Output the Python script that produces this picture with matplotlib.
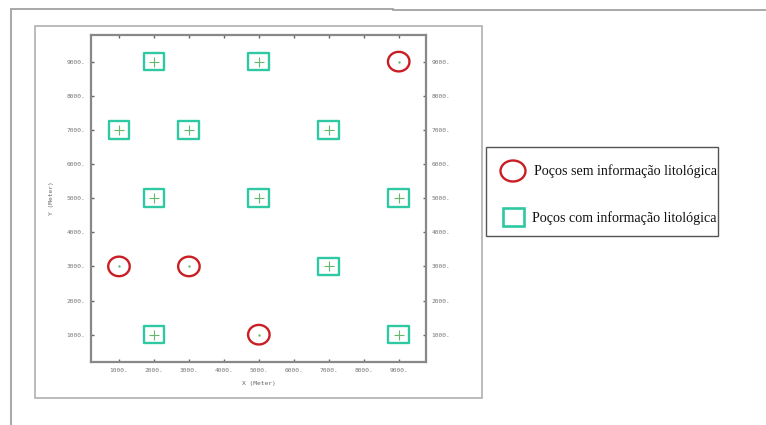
import numpy as np
import matplotlib.pyplot as plt
from matplotlib.path import Path
from matplotlib.patches import Ellipse, Rectangle
from matplotlib.lines import Line2D

# Pocos sem informacao litologica (circulos vermelhos)
sem_x = [9000, 1000, 3000, 5000]
sem_y = [9000, 3000, 3000, 1000]

# Pocos com informacao litologica (quadrados verdes)
com_x = [2000, 5000, 1000, 3000, 7000, 2000, 5000, 9000, 7000, 2000, 9000]
com_y = [9000, 9000, 7000, 7000, 7000, 5000, 5000, 5000, 3000, 1000, 1000]

ticks = [1000, 2000, 3000, 4000, 5000, 6000, 7000, 8000, 9000]
tick_labels = [f"{t}." for t in ticks]

red = '#c81e24'
teal = '#2ec9a2'
green = '#62b86c'
W, H = 766, 425

# marcadores customizados (elipse e retangulo achatados)
t = np.linspace(0, 2 * np.pi, 60)
ellipse_marker = Path(np.column_stack([1.1 * np.cos(t), np.sin(t)]))
rect_marker = Path([(-1.2, -1), (1.2, -1), (1.2, 1), (-1.2, 1), (-1.2, -1)],
                   [Path.MOVETO, Path.LINETO, Path.LINETO, Path.LINETO, Path.CLOSEPOLY])

fig = plt.figure(figsize=(W / 100, H / 100), dpi=100)

def fx(px):
    return px / W

def fy(py):
    return 1 - py / H

ax = fig.add_axes([fx(91), fy(362), fx(426) - fx(91), fy(35) - fy(362)])
ax.set_xlim(200, 9780)
ax.set_ylim(200, 9780)

ax.scatter(com_x, com_y, marker=rect_marker, s=225, facecolors='none',
           edgecolors=teal, linewidths=1.7, zorder=3)
ax.scatter(com_x, com_y, marker='+', s=50, color=green, linewidths=0.8, zorder=4)
ax.scatter(sem_x, sem_y, marker=ellipse_marker, s=240, facecolors='none',
           edgecolors=red, linewidths=1.7, zorder=3)
ax.scatter(sem_x, sem_y, marker='.', s=2, color=green, zorder=4)

ax.set_xticks(ticks)
ax.set_xticklabels(tick_labels)
ax.set_yticks(ticks)
ax.set_yticklabels(tick_labels)
ax.tick_params(direction='in', length=2.5, width=1, color='#666666',
               labelsize=4.5, labelcolor='#777777', top=True, right=True,
               labelright=True, pad=4)
for lab in ax.get_xticklabels() + ax.get_yticklabels():
    lab.set_family('DejaVu Sans Mono')
for sp in ax.spines.values():
    sp.set_color('#888888')
    sp.set_linewidth(1.6)

ax.set_xlabel('X (Meter)', fontsize=4.5, family='DejaVu Sans Mono', color='#666666', labelpad=6)
ax.set_ylabel('Y (Meter)', fontsize=4.5, family='DejaVu Sans Mono', color='#666666', labelpad=9)

# molduras externas
fig.add_artist(Line2D([fx(11), fx(393)], [fy(8.5), fy(8.5)], color='#999999', lw=1.2))
fig.add_artist(Line2D([fx(393), fx(766)], [fy(9.5), fy(9.5)], color='#999999', lw=1.2))
fig.add_artist(Line2D([fx(11), fx(11)], [fy(8.5), fy(425)], color='#aaaaaa', lw=1.5))
fig.add_artist(Rectangle((fx(35), fy(398)), fx(482) - fx(35), fy(25.5) - fy(398),
                         fill=False, edgecolor='#b0b0b0', lw=1.2))

# legenda
fig.add_artist(Rectangle((fx(486), fy(236)), fx(718) - fx(486), fy(147) - fy(236),
                         fill=False, edgecolor='#555555', lw=1.0))
fig.add_artist(Ellipse((fx(513), fy(171)), fx(25), 21 / H, fill=False,
                       edgecolor=red, lw=1.7))
fig.add_artist(Rectangle((fx(503), fy(226)), fx(20.5), 18 / H, fill=False,
                         edgecolor=teal, lw=1.9))
fig.text(fx(534), fy(171), 'Poços sem informação litológica', family='Liberation Serif',
         fontsize=10.1, va='center', ha='left', color='#111111')
fig.text(fx(532), fy(218), 'Poços com informação litológica', family='Liberation Serif',
         fontsize=10.1, va='center', ha='left', color='#111111')

fig.savefig('out.png', dpi=100)
